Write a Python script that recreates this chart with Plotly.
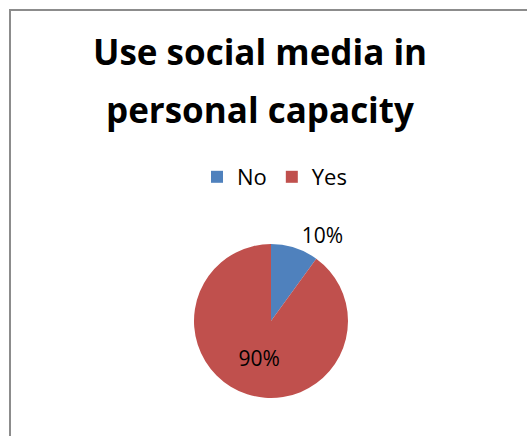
import plotly.graph_objects as go

W, H = 527, 436

labels = ["No", "Yes"]
values = [10, 90]
colors = ["#4F81BD", "#C0504D"]
text_positions = ["outside", "inside"]
title_lines = ["Use social media in", "personal capacity"]

FONT = "'Open Sans', sans-serif"

# pie geometry (pixels)
cx, cy, r = 271, 321, 77

fig = go.Figure(
    go.Pie(
        labels=labels,
        values=values,
        sort=False,
        direction="clockwise",
        rotation=0,
        marker=dict(colors=colors, line=dict(width=0)),
        texttemplate="%{percent:.0%}",
        textposition=text_positions,
        insidetextorientation="horizontal",
        textfont=dict(family=FONT, size=21, color="#000000"),
        outsidetextfont=dict(family=FONT, size=21, color="#000000"),
        insidetextfont=dict(family=FONT, size=21, color="#000000"),
        domain=dict(
            x=[(cx - r) / W, (cx + r) / W],
            y=[(H - cy - r) / H, (H - cy + r) / H],
        ),
        showlegend=True,
    )
)

annotations = []
for txt, yc in zip(title_lines, [52, 109]):
    annotations.append(
        dict(
            text="<b>%s</b>" % txt,
            x=260 / W,
            y=1 - yc / H,
            xref="paper",
            yref="paper",
            xanchor="center",
            yanchor="middle",
            showarrow=False,
            font=dict(family=FONT, size=35, color="#000000"),
        )
    )

fig.update_layout(
    width=W,
    height=H,
    margin=dict(l=0, r=0, t=0, b=0),
    paper_bgcolor="#FFFFFF",
    plot_bgcolor="#FFFFFF",
    annotations=annotations,
    legend=dict(
        orientation="h",
        x=197 / W,
        xanchor="left",
        y=1 - 177 / H,
        yanchor="middle",
        font=dict(family=FONT, size=22, color="#000000"),
        bgcolor="rgba(0,0,0,0)",
        itemclick=False,
        tracegroupgap=0,
    ),
    shapes=[
        dict(
            type="rect",
            xref="paper",
            yref="paper",
            x0=10 / W,
            x1=1 + 10 / W,
            y0=-10 / H,
            y1=1 - 10 / H,
            line=dict(color="#8C8C8C", width=2),
            fillcolor="rgba(0,0,0,0)",
            layer="below",
        )
    ],
)

fig.write_html("out.html")
